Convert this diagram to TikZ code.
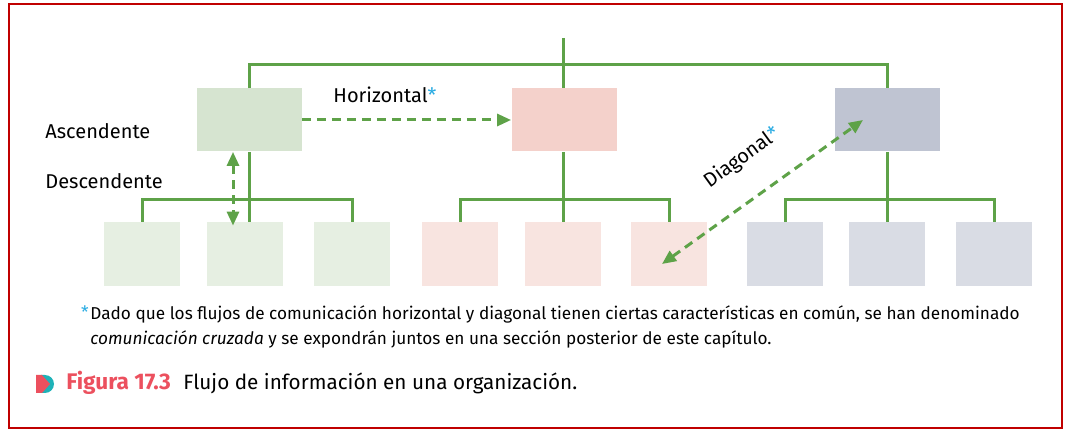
\documentclass[tikz,border=0pt]{standalone}
\usepackage{fontspec}
\setmainfont{Fira Sans}
\usetikzlibrary{arrows.meta}
\definecolor{linegreen}{RGB}{94,162,72}
\definecolor{framered}{RGB}{192,0,0}
\definecolor{astblue}{RGB}{41,171,226}
\definecolor{figred}{RGB}{236,80,94}
\definecolor{figteal}{RGB}{30,178,184}
\definecolor{greentop}{RGB}{214,228,208}
\definecolor{greenlow}{RGB}{230,239,226}
\definecolor{pinktop}{RGB}{244,209,203}
\definecolor{pinklow}{RGB}{248,228,224}
\definecolor{greytop}{RGB}{191,196,210}
\definecolor{greylow}{RGB}{217,220,228}
\tikzset{
  topbox/.style={minimum width=52.5pt, minimum height=31.5pt, inner sep=0pt},
  lowbox/.style={minimum width=38pt, minimum height=32pt, inner sep=0pt},
  tree/.style={linegreen, line width=1.5pt},
  flow/.style={linegreen, line width=1.5pt, dash pattern=on 4.5pt off 3pt,
    {Triangle[length=7pt,width=6pt]}-{Triangle[length=7pt,width=6pt]}},
  onlyhead/.style={linegreen, line width=1.5pt, dash pattern=on 4.5pt off 3pt,
    -{Triangle[length=7pt,width=6pt]}},
  lbl/.style={font=\fontsize{10}{12}\selectfont, inner sep=0pt},
}
\newcommand{\blueast}{\textcolor{astblue}{*}}
\begin{document}
\begin{tikzpicture}[x=0.5pt,y=-0.5pt]
\useasboundingbox (0,0) rectangle (1073,433);
\draw[framered, line width=1pt] (9,4) rectangle (1062,428);

\node[topbox, fill=greentop] (gtop) at (249,120) {};
\node[topbox, fill=pinktop] (ptop) at (564,120) {};
\node[topbox, fill=greytop] (ytop) at (887,120) {};

\node[lowbox, fill=greenlow] (g1) at (142,254) {};
\node[lowbox, fill=greenlow] (g2) at (245,254) {};
\node[lowbox, fill=greenlow] (g3) at (352,254) {};
\node[lowbox, fill=pinklow] (p1) at (460,254) {};
\node[lowbox, fill=pinklow] (p2) at (563,254) {};
\node[lowbox, fill=pinklow] (p3) at (669,254) {};
\node[lowbox, fill=greylow] (y1) at (785,254) {};
\node[lowbox, fill=greylow] (y2) at (887,254) {};
\node[lowbox, fill=greylow] (y3) at (994,254) {};

\coordinate (root) at (563,38);
\coordinate (rootbar) at (563,65);
\coordinate (gbar) at (249,200);
\coordinate (pbar) at (563,200);
\coordinate (ybar) at (887,200);

\draw[tree] (root) -- (root |- ptop.north);
\draw[tree] (gtop.north) |- (rootbar) -| (ytop.north);
\draw[tree] (gtop.south) -- (gbar);
\draw[tree] (pbar |- ptop.south) -- (pbar);
\draw[tree] (ytop.south) -- (ybar);
\draw[tree] (g1.north) |- (gbar) -| (g3.north);
\draw[tree] (gbar) -- (gbar |- g2.north);
\draw[tree] (p1.north) |- (pbar) -| (p3.north);
\draw[tree] (pbar) -- (p2.north);
\draw[tree] (y1.north) |- (ybar) -| (y3.north);
\draw[tree] (ybar) -- (y2.north);

\draw[onlyhead] (gtop.east) -- (ptop.west);
\draw[flow] ([xshift=-8pt]gtop.south) -- ([shift={(-8pt,-2pt)}]gtop.south |- g2.north);
\draw[flow] ([shift={(-3.5pt,-5pt)}]p3.center) -- ([shift={(-12pt,0pt)}]ytop.center);

\node[lbl, anchor=west] (asc) at (45,131) {Ascendente};
\node[lbl, anchor=west] (desc) at (45,181) {Descendente};
\node[lbl, anchor=west] (horiz) at (333,95) {Horizontal\blueast};
\node[lbl, rotate=36] (diag) at (742,158) {Diagonal\blueast};

\node[anchor=north west, align=left, inner sep=0pt, font=\fontsize{8.6}{12.5}\selectfont] (note) at (90,305)
  {Dado que los flujos de comunicación horizontal y diagonal tienen ciertas características en común, se han denominado\\
   \textit{comunicación cruzada} y se expondrán juntos en una sección posterior de este capítulo.};
\node[anchor=north east, inner sep=0pt, astblue, font=\fontsize{8.6}{12.5}\selectfont] (noteast) at ([xshift=-0.5pt]note.north west) {*};

\fill[figteal] (41,375) -- (45,375) arc[start angle=90, end angle=-90, radius=4.5pt] -- (41,393) -- cycle;
\fill[figred] (36,375) -- (42,375) -- (50,384) -- (42,393) -- (36,393) -- cycle;
\node[anchor=west, inner sep=0pt, figred, font=\fontsize{11.3}{12}\selectfont\bfseries] (fig) at (66,383) {Figura 17.3};
\node[anchor=west, inner sep=0pt, font=\fontsize{10.35}{12}\selectfont] (cap) at (183,383) {Flujo de información en una organización.};
\end{tikzpicture}
\end{document}
